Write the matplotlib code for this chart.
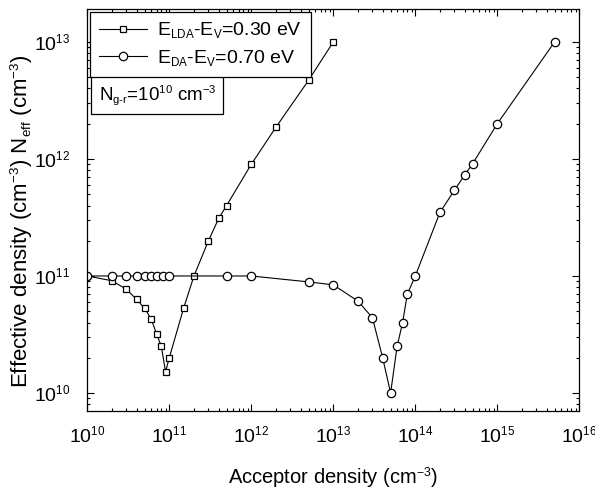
import numpy as np
import matplotlib
matplotlib.use('Agg')
from matplotlib import pyplot as plt
from matplotlib.ticker import LogLocator, NullFormatter
import matplotlib._mathtext as mt

# 글꼴 설정 (Arial 대신 Liberation Sans)
plt.rcParams['font.family'] = ['Liberation Sans', 'DejaVu Sans']
plt.rcParams['mathtext.fontset'] = 'custom'
plt.rcParams['mathtext.rm'] = 'Liberation Sans'
plt.rcParams['mathtext.it'] = 'Liberation Sans:italic'
plt.rcParams['mathtext.default'] = 'regular'
# 첨자를 조금 더 작게
mt.SHRINK_FACTOR = 0.6

# E_LDA - E_V = 0.30 eV
lda_na = [1e10, 2e10, 3e10, 4e10, 5e10, 6e10, 7e10, 8e10, 9e10, 1e11,
          1.5e11, 2e11, 3e11, 4e11, 5e11, 1e12, 2e12, 5e12, 1e13]
lda_neff = [1e11, 9.1e10, 7.7e10, 6.3e10, 5.3e10, 4.3e10, 3.2e10, 2.5e10, 1.52e10, 2.0e10,
            5.35e10, 1e11, 2e11, 3.1e11, 4e11, 9e11, 1.87e12, 4.7e12, 1e13]

# E_DA - E_V = 0.70 eV
da_na = [1e10, 2e10, 3e10, 4e10, 5e10, 6e10, 7e10, 8.5e10, 1e11, 5e11, 1e12,
         5e12, 1e13, 2e13, 3e13, 4e13, 5e13, 6e13, 7e13, 8e13, 1e14,
         2e14, 3e14, 4e14, 5e14, 1e15, 5e15]
da_neff = [1e11, 1e11, 1e11, 1e11, 1e11, 1e11, 1e11, 1e11, 1e11, 1e11, 1e11,
           8.9e10, 8.4e10, 6.1e10, 4.4e10, 2e10, 1e10, 2.5e10, 4e10, 7e10, 1e11,
           3.5e11, 5.4e11, 7.3e11, 9.1e11, 2e12, 1e13]

fig = plt.figure(figsize=(5.95, 4.94), dpi=100)
ax = fig.add_axes([0.1467, 0.1686, 0.8269, 0.8126])

ax.plot(lda_na, lda_neff, color='black', lw=0.8, marker='s', ms=5,
        mfc='white', mec='black', mew=0.9, label='E$_{LDA}$-E$_{V}$=0.30 eV')
ax.plot(da_na, da_neff, color='black', lw=0.8, marker='o', ms=6,
        mfc='white', mec='black', mew=0.9, label='E$_{DA}$-E$_{V}$=0.70 eV')

ax.set_xscale('log')
ax.set_yscale('log')
ax.set_xlim(1e10, 1e16)
ax.set_ylim(7.06e9, 1.9e13)

ax.xaxis.set_major_locator(LogLocator(base=10, numticks=20))
ax.xaxis.set_minor_locator(LogLocator(base=10, subs=np.arange(2, 10), numticks=20))
ax.xaxis.set_minor_formatter(NullFormatter())
ax.yaxis.set_minor_formatter(NullFormatter())

ax.tick_params(which='both', direction='in', top=True, right=True, labelsize=14, width=0.8)
ax.tick_params(which='major', length=5)
ax.tick_params(which='minor', length=2.5)
ax.tick_params(axis='x', which='major', pad=11)
ax.tick_params(axis='y', which='major', pad=12)
for s in ax.spines.values():
    s.set_linewidth(0.9)

ax.set_xlabel('Acceptor density (cm$^{-3}$)', fontsize=14.5, labelpad=13)
ax.set_ylabel('Effective density (cm$^{-3}$) N$_{eff}$ (cm$^{-3}$)', fontsize=16)
ax.yaxis.set_label_coords(-0.106, 0.472)

leg = ax.legend(loc='upper left', bbox_to_anchor=(0.0055, 0.994), borderaxespad=0,
                fontsize=14, fancybox=False, framealpha=1, edgecolor='black',
                handlelength=2.5, handletextpad=0.5, borderpad=0.45, labelspacing=0.4)
leg.get_frame().set_linewidth(0.9)

ax.text(0.023, 0.815, 'N$_{g\u2010r}$=10$^{10}$ cm$^{-3}$', transform=ax.transAxes,
        fontsize=13.5, ha='left', va='top',
        bbox=dict(boxstyle='square,pad=0.38', fc='white', ec='black', lw=0.9))

fig.savefig('out.png', dpi=100)
